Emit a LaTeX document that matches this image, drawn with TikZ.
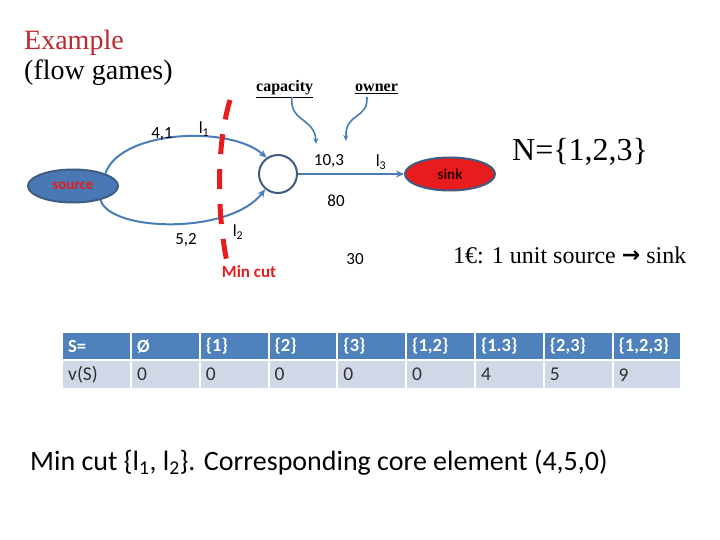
\documentclass[tikz,border=0pt]{standalone}
\usepackage{fontspec}
\setmainfont{Liberation Serif}
\newfontfamily\calfont{Carlito}
\newfontfamily\dejafont{DejaVu Sans}
\usetikzlibrary{arrows.meta,shapes.geometric}
\definecolor{edgeblue}{HTML}{4A7DB8}
\definecolor{rimblue}{HTML}{3F5C82}
\definecolor{srcfill}{HTML}{4A78B4}
\definecolor{cutred}{HTML}{E81C1C}
\definecolor{titlered}{HTML}{C0282E}
\definecolor{hdrblue}{HTML}{4F81BD}
\definecolor{rowgray}{HTML}{D0D8E8}
\definecolor{celltext}{HTML}{303030}
\begin{document}
\begin{tikzpicture}[x=1pt,y=-1pt,
  flow/.style={draw=edgeblue, line width=2pt, -{Stealth[length=8pt,width=7pt]}},
  note/.style={draw=edgeblue, line width=1.6pt, -{Stealth[length=6pt,width=5pt]}},
  cutline/.style={draw=cutred, line width=5pt, dash pattern=on 20pt off 15pt},
  lbl/.style={font=\calfont\fontsize{17}{17}\selectfont, inner sep=0},
  hdr/.style={anchor=north west, fill=hdrblue, text=white, inner xsep=5pt, inner ysep=0,
     text width=56.8pt, align=left, minimum height=26pt,
     font=\calfont\bfseries\fontsize{18.5}{18.5}\selectfont},
  cell/.style={anchor=north west, fill=rowgray, text=celltext, inner xsep=5pt, inner ysep=0,
     text width=56.8pt, align=left, minimum height=27pt,
     font=\calfont\fontsize{19.5}{19.5}\selectfont}]
\useasboundingbox (0,0) rectangle (720,540);
\fill[white] (0,0) rectangle (720,540);

% titles
\node[anchor=base west, inner sep=0, text=titlered, font=\fontsize{28}{28}\selectfont] (title) at (24,50) {Example};
\node[anchor=base west, inner sep=0, font=\fontsize{28}{28}\selectfont] (subtitle) at (24,80) {(flow games)};

% annotations
\node[anchor=base west, inner sep=0, font=\bfseries\fontsize{16}{16}\selectfont] (cap) at (256,92) {\underline{capacity}};
\node[anchor=base west, inner sep=0, font=\bfseries\fontsize{16}{16}\selectfont] (own) at (355,92) {\underline{owner}};
\coordinate (captip) at (316,144);
\coordinate (owntip) at (346,141);
\draw[note] (292,97) .. controls (289,122) and (315,118) .. (captip);
\draw[note] (367,97) .. controls (368,120) and (345,112) .. (owntip);

% graph nodes
\node[ellipse, draw=rimblue, line width=2pt, fill=srcfill, minimum width=90pt, minimum height=33pt, inner sep=0,
      font=\calfont\bfseries\fontsize{15}{15}\selectfont, text=cutred] (src) at (73,186) {source};
\node[circle, draw=rimblue, line width=2pt, minimum size=38pt, inner sep=0] (mid) at (278,174) {};
\node[ellipse, draw=rimblue, line width=2pt, fill=cutred, minimum width=90pt, minimum height=33pt, inner sep=0,
      font=\calfont\bfseries\fontsize{15}{15}\selectfont, text=black!80!red] (sink) at (450,174) {sink};

% edges
\draw[flow] (src.21) .. controls (120,130) and (230,125) .. (mid.125);
\draw[flow] (src.-27) .. controls (110,232) and (230,235) .. (mid.230);
\draw[flow] (mid.east) -- (sink.west);

% min cut
\coordinate (cuttop) at (230,100);
\coordinate (cutbot) at (227,262);
\draw[cutline] (cuttop) .. controls (215,150) and (218,220) .. (cutbot);

% edge labels
\node[lbl] (l41) at (162,134) {4,1};
\node[lbl] (lone) at (204,129) {l\textsubscript{1}};
\node[lbl] (l103) at (329,161) {10,3};
\node[lbl] (lthree) at (381,162) {l\textsubscript{3}};
\node[lbl] (l80) at (336,201) {80};
\node[lbl] (l52) at (186,240) {5,2};
\node[lbl] (ltwo) at (238,232) {l\textsubscript{2}};
\node[lbl] (l30) at (355,259) {30};
\node[lbl, text=cutred, font=\calfont\bfseries\fontsize{17}{17}\selectfont] (mincut) at (249,272) {Min cut};

% right texts
\node[anchor=base west, inner sep=0, font=\fontsize{32}{32}\selectfont] (nset) at (512,161) {N=\{1,2,3\}};
\node[anchor=base west, inner sep=0, font=\fontsize{24}{24}\selectfont] (unit) at (453,263) {1€: 1 unit source {\dejafont\bfseries\fontsize{22}{22}\selectfont\raisebox{0.5pt}{→}} sink};

% table
\foreach \lab [count=\i from 0] in {S=,{Ø},{\{1\}},{\{2\}},{\{3\}},{\{1,2\}},{\{1.3\}},{\{2,3\}},{\{1,2,3\}}} {
  \node[hdr] (h\i) at ({63+\i*68.8},333) {\lab};
}
\foreach \val [count=\i from 0] in {v(S),0,0,0,0,0,4,5,9} {
  \node[cell] (c\i) at ({63+\i*68.8},361) {\val};
}

% bottom text
\node[anchor=base west, inner sep=0, font=\calfont\fontsize{28}{28}\selectfont] (concl) at (30,470)
  {Min cut \{l\textsubscript{1}, l\textsubscript{2}\}. Corresponding core element (4,5,0)};
\end{tikzpicture}
\end{document}
